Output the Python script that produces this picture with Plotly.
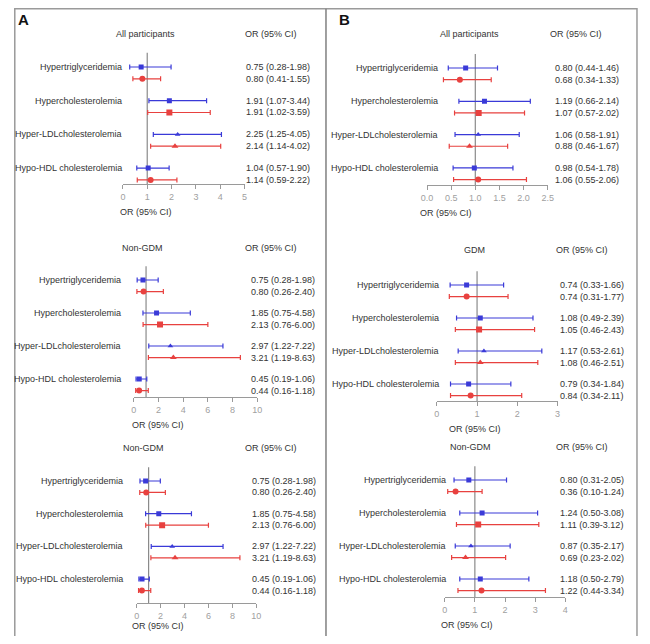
import plotly.graph_objects as go

# ---------------- data ----------------
CONDITIONS = ["Hypertriglyceridemia", "Hypercholesterolemia",
              "Hyper-LDLcholesterolemia", "Hypo-HDL cholesterolemia"]

A1_TITLE = "All participants"
A1_BLUE = [(0.75, 0.28, 1.98), (1.91, 1.07, 3.44), (2.25, 1.25, 4.05), (1.04, 0.57, 1.90)]
A1_RED = [(0.80, 0.41, 1.55), (1.91, 1.02, 3.59), (2.14, 1.14, 4.02), (1.14, 0.59, 2.22)]

A2_TITLE = "Non-GDM"
A2_BLUE = [(0.75, 0.28, 1.98), (1.85, 0.75, 4.58), (2.97, 1.22, 7.22), (0.45, 0.19, 1.06)]
A2_RED = [(0.80, 0.26, 2.40), (2.13, 0.76, 6.00), (3.21, 1.19, 8.63), (0.44, 0.16, 1.18)]

A3_TITLE = "Non-GDM"
A3_BLUE = [(0.75, 0.28, 1.98), (1.85, 0.75, 4.58), (2.97, 1.22, 7.22), (0.45, 0.19, 1.06)]
A3_RED = [(0.80, 0.26, 2.40), (2.13, 0.76, 6.00), (3.21, 1.19, 8.63), (0.44, 0.16, 1.18)]

B1_TITLE = "All participants"
B1_BLUE = [(0.80, 0.44, 1.46), (1.19, 0.66, 2.14), (1.06, 0.58, 1.91), (0.98, 0.54, 1.78)]
B1_RED = [(0.68, 0.34, 1.33), (1.07, 0.57, 2.02), (0.88, 0.46, 1.67), (1.06, 0.55, 2.06)]

B2_TITLE = "GDM"
B2_BLUE = [(0.74, 0.33, 1.66), (1.08, 0.49, 2.39), (1.17, 0.53, 2.61), (0.79, 0.34, 1.84)]
B2_RED = [(0.74, 0.31, 1.77), (1.05, 0.46, 2.43), (1.08, 0.46, 2.51), (0.84, 0.34, 2.11)]

B3_TITLE = "Non-GDM"
B3_BLUE = [(0.80, 0.31, 2.05), (1.24, 0.50, 3.08), (0.87, 0.35, 2.17), (1.18, 0.50, 2.79)]
B3_RED = [(0.36, 0.10, 1.24), (1.11, 0.39, 3.12), (0.69, 0.23, 2.02), (1.22, 0.44, 3.34)]

X_MAX = [5, 10, 10, 2.5, 3, 4]
X_DTICK = [1, 2, 2, 0.5, 1, 1]
X_FORMAT = ["d", "d", "d", ".1f", "d", "d"]
REF_OR = 1
HEADER_CI = "OR (95% CI)"
AXIS_TITLE = "OR (95% CI)"
PANEL_LETTERS = ["A", "B"]

TITLES = [A1_TITLE, A2_TITLE, A3_TITLE, B1_TITLE, B2_TITLE, B3_TITLE]
BLUES = [A1_BLUE, A2_BLUE, A3_BLUE, B1_BLUE, B2_BLUE, B3_BLUE]
REDS = [A1_RED, A2_RED, A3_RED, B1_RED, B2_RED, B3_RED]

# ---------------- layout geometry (pixels of the 650x644 window) ----------------
PAGE_MARGIN = 8          # default body margin of the html page
W, H = 650 - 2 * PAGE_MARGIN, 644 - 2 * PAGE_MARGIN
GEOM = [
    dict(x0=119, x1=243, b1=67, s=33.7, axis=184, lab_r=120, txt_l=242, hx=142, hy=34, ohx=270, xtx=143, xty=212),
    dict(x0=130, x1=256, b1=280, s=33.0, axis=397, lab_r=119, txt_l=248, hx=139, hy=248, ohx=270, xtx=155, xty=425),
    dict(x0=133, x1=255, b1=481, s=32.7, axis=603, lab_r=121, txt_l=249, hx=140, hy=448, ohx=270, xtx=155, xty=626),
    dict(x0=429, x1=552, b1=68, s=33.3, axis=185, lab_r=442, txt_l=557, hx=472, hy=34, ohx=581, xtx=448, xty=213),
    dict(x0=439, x1=562, b1=285, s=33.0, axis=401, lab_r=443, txt_l=562, hx=477, hy=250, ohx=587, xtx=478, xty=429),
    dict(x0=447, x1=570, b1=480, s=33.0, axis=597, lab_r=450, txt_l=563, hx=473, hy=447, ohx=587, xtx=470, xty=625),
]
RED_OFFSET = 0.35
Y_TOP = -0.42

BLUE = "#3a3ad8"
RED = "#e8413f"
GREY = "#9a9a9a"
TEXT = "#333333"
FONT = "Liberation Sans, Arial, sans-serif"
FS = 9

BLUE_SYMBOLS = ["square", "square", "triangle-up", "square"]
RED_SYMBOLS = ["circle", "square", "triangle-up", "circle"]


def px(x):
    return (x - PAGE_MARGIN) / W


def py(y):
    return 1 - (y - PAGE_MARGIN) / H


fig = go.Figure()
annotations = []
shapes = []
layout = {}

for i in range(6):
    g = GEOM[i]
    sfx = "" if i == 0 else str(i + 1)
    xref, yref = "x" + sfx, "y" + sfx
    rows = list(range(len(CONDITIONS)))
    y_blue = rows
    y_red = [r + RED_OFFSET for r in rows]
    y_bot = (g["axis"] - g["b1"]) / g["s"]

    for data, ys, col, sym, size in [
        (BLUES[i], y_blue, BLUE, BLUE_SYMBOLS, 5),
        (REDS[i], y_red, RED, RED_SYMBOLS, 6),
    ]:
        ors = [d[0] for d in data]
        los = [d[1] for d in data]
        his = [d[2] for d in data]
        fig.add_trace(go.Scatter(
            x=ors, y=ys, mode="markers", xaxis=xref, yaxis=yref,
            marker=dict(color=col, size=size, symbol=sym),
            error_x=dict(type="data", symmetric=False,
                         array=[h - o for h, o in zip(his, ors)],
                         arrayminus=[o - l for o, l in zip(ors, los)],
                         color=col, thickness=1.2, width=2.5),
            showlegend=False, hoverinfo="skip"))
        for o, l, h, yy in zip(ors, los, his, ys):
            annotations.append(dict(
                x=px(g["txt_l"]), xref="paper", y=yy, yref=yref,
                text=f"{o:.2f} ({l:.2f}-{h:.2f})", showarrow=False,
                xanchor="left", yanchor="middle",
                font=dict(size=FS, color=TEXT, family=FONT)))

    for name, yy in zip(CONDITIONS, y_blue):
        annotations.append(dict(
            x=px(g["lab_r"]), xref="paper", y=yy, yref=yref, text=name,
            showarrow=False, xanchor="right", yanchor="middle",
            font=dict(size=FS, color=TEXT, family=FONT)))

    annotations.append(dict(x=px(g["hx"]), y=py(g["hy"]), xref="paper", yref="paper",
                            text=TITLES[i], showarrow=False, xanchor="center", yanchor="middle",
                            font=dict(size=FS, color=TEXT, family=FONT)))
    annotations.append(dict(x=px(g["ohx"]), y=py(g["hy"]), xref="paper", yref="paper",
                            text=HEADER_CI, showarrow=False, xanchor="center", yanchor="middle",
                            font=dict(size=FS, color=TEXT, family=FONT)))
    annotations.append(dict(x=px(g["xtx"]), y=py(g["xty"]), xref="paper", yref="paper",
                            text=AXIS_TITLE, showarrow=False, xanchor="center", yanchor="middle",
                            font=dict(size=FS, color=TEXT, family=FONT)))

    shapes.append(dict(type="line", xref=xref, yref=yref + " domain",
                       x0=REF_OR, x1=REF_OR, y0=0, y1=1,
                       line=dict(color="#8a8a8a", width=1.2), layer="below"))

    layout["xaxis" + sfx] = dict(
        domain=[px(g["x0"]), px(g["x1"])], range=[0, X_MAX[i]], anchor=yref,
        showline=True, linecolor=GREY, linewidth=1, ticks="outside", ticklen=4,
        tickcolor=GREY, tickwidth=1, dtick=X_DTICK[i], tick0=0, tickformat=X_FORMAT[i],
        tickfont=dict(size=FS, color="#a0a0a0", family=FONT),
        showgrid=False, zeroline=False, fixedrange=True)
    layout["yaxis" + sfx] = dict(
        domain=[py(g["axis"]), py(g["b1"] + Y_TOP * g["s"])],
        range=[y_bot, Y_TOP], anchor=xref, visible=False,
        showgrid=False, zeroline=False, fixedrange=True)

# panel letters
for letter, xx in zip(PANEL_LETTERS, [18, 345]):
    annotations.append(dict(x=px(xx), y=py(19), xref="paper", yref="paper", text="<b>" + letter + "</b>",
                            showarrow=False, xanchor="center", yanchor="middle",
                            font=dict(size=15, color="#111111", family=FONT)))

# frame
shapes.append(dict(type="rect", xref="paper", yref="paper", x0=px(8.8), x1=px(643), y0=py(637), y1=py(8.8),
                   line=dict(color=GREY, width=1.5)))
shapes.append(dict(type="line", xref="paper", yref="paper", x0=px(326), x1=px(326), y0=py(637), y1=py(8.8),
                   line=dict(color="#808080", width=1.5)))

fig.update_layout(
    width=W, height=H, margin=dict(l=0, r=0, t=0, b=0),
    paper_bgcolor="white", plot_bgcolor="rgba(0,0,0,0)",
    annotations=annotations, shapes=shapes, showlegend=False,
    font=dict(family=FONT, size=FS, color=TEXT),
    **layout)

fig.write_html("out.html")
